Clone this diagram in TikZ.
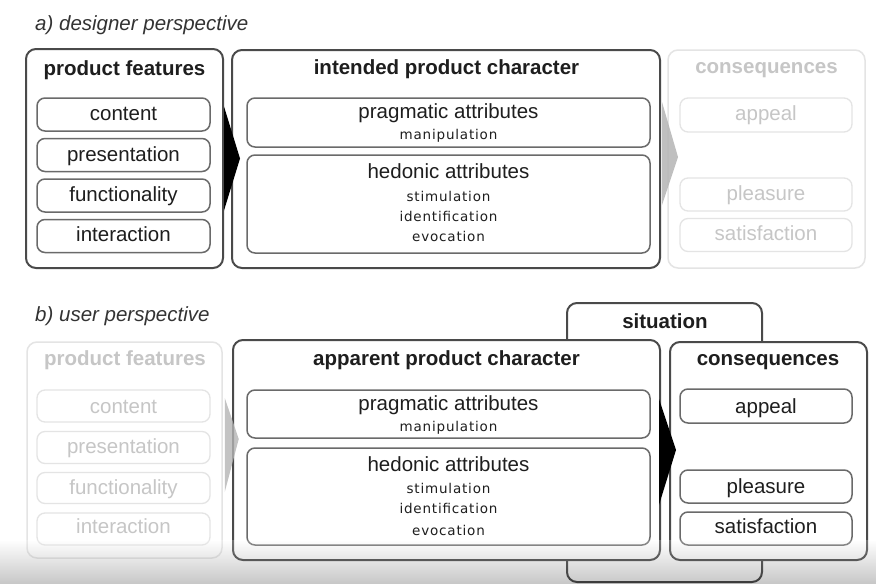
\documentclass[tikz,border=0pt]{standalone}
\usepackage{fontspec}
\setmainfont{Liberation Sans}
\newfontfamily\smallfont{DejaVu Sans}[LetterSpace=6]
\usetikzlibrary{calc}
\definecolor{dk}{HTML}{4A4A4A}
\definecolor{inr}{HTML}{6A6A6A}
\definecolor{fadeline}{HTML}{E4E4E4}
\definecolor{fadetxt}{HTML}{C6C6C6}
\definecolor{txt}{HTML}{1E1E1E}
\definecolor{ital}{HTML}{333333}
\definecolor{garrow}{HTML}{B4B4B4}
\begin{document}
\begin{tikzpicture}[x=1pt,y=-1pt,
  outerbox/.style={draw=dk, line width=2pt, fill=white, rectangle, rounded corners=10pt, inner sep=0pt},
  innerbox/.style={draw=inr, line width=1.5pt, fill=white, rectangle, rounded corners=8pt, inner sep=0pt},
  fadeouter/.style={draw=fadeline, line width=1.5pt, fill=white, rectangle, rounded corners=10pt, inner sep=0pt},
  fadeinner/.style={draw=fadeline, line width=1.3pt, fill=white, rectangle, rounded corners=8pt, inner sep=0pt},
  ttl/.style={anchor=base, inner sep=0pt, text=txt, font=\fontsize{20.5}{24}\selectfont\bfseries},
  itm/.style={anchor=base, inner sep=0pt, text=txt, font=\fontsize{20.5}{24}\selectfont},
  sml/.style={anchor=base, inner sep=0pt, text=txt, font=\fontsize{13.5}{16}\selectfont\smallfont},
  fttl/.style={ttl, text=fadetxt},
  fitm/.style={itm, text=fadetxt},
  ptitle/.style={anchor=base west, inner sep=0pt, text=ital, font=\fontsize{20.5}{24}\selectfont\itshape}
]
\useasboundingbox (0,0) rectangle (876,584);
\fill[white] (0,0) rectangle (876,584);

% ---------------- panel a ----------------
\node[ptitle] (ta) at (35,30) {a) designer perspective};

\node[outerbox, minimum width=197pt, minimum height=219pt] (pfa) at (124.5,158.5) {};
\node[ttl] (pfat) at (124.5,75) {product features};
\node[innerbox, minimum width=173pt, minimum height=33pt] (ca) at (123.5,114.5) {};
\node[innerbox, minimum width=173pt, minimum height=33pt] (pa) at (123.5,155) {};
\node[innerbox, minimum width=173pt, minimum height=33pt] (fa) at (123.5,195.5) {};
\node[innerbox, minimum width=173pt, minimum height=33pt] (ia) at (123.5,236) {};
\node[itm] (cat) at (123.5,120.7) {content};
\node[itm] (pat) at (123.5,161.7) {presentation};
\node[itm] (fat) at (123.5,201.7) {functionality};
\node[itm] (iat) at (123.5,241.7) {interaction};

\node[outerbox, minimum width=428pt, minimum height=218pt] (ipc) at (446,159) {};
\node[ttl] (ipct) at (446.5,74) {intended product character};
\node[innerbox, minimum width=403pt, minimum height=49pt] (pra) at (448.5,122.5) {};
\node[itm] (prat) at (448.5,118.3) {pragmatic attributes};
\node[sml] (mana) at (448.5,139) {manipulation};
\node[innerbox, minimum width=403pt, minimum height=98pt] (hea) at (448.5,204) {};
\node[itm] (heat) at (448.5,178.3) {hedonic attributes};
\node[sml] (stia) at (448.5,201.5) {stimulation};
\node[sml] (ida) at (448.5,221.5) {identification};
\node[sml] (eva) at (448.5,241.5) {evocation};

\node[fadeouter, minimum width=197pt, minimum height=218pt] (coa) at (766.5,159) {};
\node[fttl] (coat) at (766.5,73.3) {consequences};
\node[fadeinner, minimum width=172pt, minimum height=34pt] (apa) at (766,115) {};
\node[fadeinner, minimum width=172pt, minimum height=33pt] (pla) at (766,194.5) {};
\node[fadeinner, minimum width=172pt, minimum height=33pt] (saa) at (766,235) {};
\node[fitm] (apat) at (766,120) {appeal};
\node[fitm] (plat) at (766,200) {pleasure};
\node[fitm] (saat) at (766,240) {satisfaction};

% arrows a
\fill[black] ($(pfa.east)+(0,-52)$) -- ($(pfa.east)+(16,0)$) -- ($(pfa.east)+(0,52)$) -- cycle;
\fill[garrow, opacity=0.85] ($(ipc.east)+(1,-57)$) -- ($(ipc.east)+(17,-2)$) -- ($(ipc.east)+(1,46)$) -- cycle;

% ---------------- panel b ----------------
\node[ptitle] (tb) at (35,321.7) {b) user perspective};

\node[outerbox, minimum width=195pt, minimum height=279pt] (sit) at (664.5,442.5) {};
\node[ttl] (sitt) at (665,328.3) {situation};

\node[fadeouter, minimum width=195pt, minimum height=216pt] (pfb) at (124.5,450) {};
\node[fttl] (pfbt) at (125,365) {product features};
\node[fadeinner, minimum width=173pt, minimum height=32pt] (cb) at (123.5,406) {};
\node[fadeinner, minimum width=173pt, minimum height=32pt] (pb) at (123.5,447.5) {};
\node[fadeinner, minimum width=173pt, minimum height=31pt] (fb) at (123.5,488) {};
\node[fadeinner, minimum width=173pt, minimum height=32pt] (ib) at (123.5,529) {};
\node[fitm] (cbt) at (123.5,413.3) {content};
\node[fitm] (pbt) at (123.5,453) {presentation};
\node[fitm] (fbt) at (123.5,494) {functionality};
\node[fitm] (ibt) at (123.5,533) {interaction};

\node[outerbox, minimum width=427pt, minimum height=220pt] (apc) at (446.5,450) {};
\node[ttl] (apct) at (446.5,365) {apparent product character};
\node[innerbox, minimum width=403pt, minimum height=48pt] (prb) at (448.5,414) {};
\node[itm] (prbt) at (448.5,410) {pragmatic attributes};
\node[sml] (manb) at (448.5,431.7) {manipulation};
\node[innerbox, minimum width=403pt, minimum height=97pt] (heb) at (448.5,496.5) {};
\node[itm] (hebt) at (448.5,471.7) {hedonic attributes};
\node[sml] (stib) at (448.5,493.3) {stimulation};
\node[sml] (idb) at (448.5,513.3) {identification};
\node[sml] (evb) at (448.5,535) {evocation};

\node[outerbox, minimum width=197pt, minimum height=218pt] (cob) at (768.5,451) {};
\node[ttl] (cobt) at (768,365) {consequences};
\node[innerbox, minimum width=172pt, minimum height=34pt] (apb) at (766,406) {};
\node[innerbox, minimum width=172pt, minimum height=33pt] (plb) at (766,486.5) {};
\node[innerbox, minimum width=172pt, minimum height=33pt] (sab) at (766,528.5) {};
\node[itm] (apbt) at (766,413) {appeal};
\node[itm] (plbt) at (766,493) {pleasure};
\node[itm] (sabt) at (766,533) {satisfaction};

% arrows b
\fill[garrow, opacity=0.8] ($(pfb.east)+(2,-52)$) -- ($(pfb.east)+(16,-11)$) -- ($(pfb.east)+(2,42)$) -- cycle;
\fill[black] ($(apc.east)+(-2,-51)$) -- ($(apc.east)+(15,0)$) -- ($(apc.east)+(-2,55)$) -- cycle;

% bottom screen gradient
\shade[top color=white, bottom color=black, opacity=0.22] (0,540) rectangle (876,584);
\end{tikzpicture}
\end{document}
